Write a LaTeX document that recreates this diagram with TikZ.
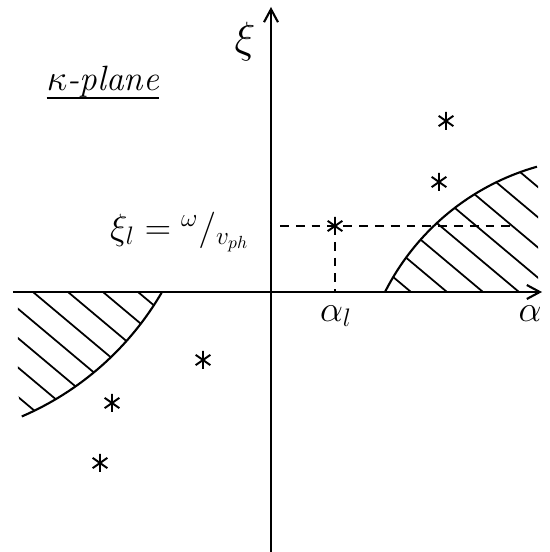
\documentclass[tikz,border=0pt]{standalone}
\usepackage{amsmath,amssymb}
\usetikzlibrary{arrows.meta}

\begin{document}
\begin{tikzpicture}[
    axis/.style={line width=1.2pt,-{Straight Barb[length=2.6mm,width=2.8mm]}},
    rim/.style={line width=1.2pt},
    hatch/.style={line width=1pt},
    guide/.style={line width=1pt,dash pattern=on 5pt off 4pt},
    lbl/.style={inner sep=1pt,font=\fontsize{20}{24}\selectfont},
    ast/.pic={\draw[line width=1.1pt] (90:0.18)--(-90:0.18)
      (35:0.18)--(215:0.18) (145:0.18)--(-35:0.18);}
  ]
  \useasboundingbox (-5.42,-5.2) rectangle (5.56,5.84);
  \coordinate (xl) at (-5.16,0);
  \coordinate (xr) at (5.42,0);
  \coordinate (yb) at (0,-5.2);
  \coordinate (yt) at (0,5.7);
  \coordinate (s1) at (3.5,3.42);
  \coordinate (s2) at (3.36,2.2);
  \coordinate (s3) at (1.28,1.32);
  \coordinate (s4) at (-1.36,-1.36);
  \coordinate (s5) at (-3.18,-2.22);
  \coordinate (s6) at (-3.42,-3.42);
  \coordinate (dl) at (0.18,1.32);
  \coordinate (dr) at (4.84,1.32);
  \coordinate (dx) at (1.28,0);
  \begin{scope}
    \clip (2.28,0) arc[start angle=153.2,end angle=105.8,radius=4.9]
      -- (5.34,2.6) -- (5.34,0) -- cycle;
    \foreach \x in {2.8,3.52,...,10}
      \draw[hatch] (\x,0) ++(140:7) -- ++(-40:14);
  \end{scope}
  \begin{scope}
    \clip (-2.18,0) arc[start angle=-30.1,end angle=-66.7,radius=5.97]
      -- (-5.06,-2.0) -- (-5.06,0) -- cycle;
    \foreach \x in {-2.66,-3.36,...,-8.6}
      \draw[hatch] (\x,0) ++(140:7) -- ++(-40:14);
  \end{scope}
  \draw[rim] (2.28,0) arc[start angle=153.2,end angle=105.8,radius=4.9];
  \draw[rim] (-2.18,0) arc[start angle=-30.1,end angle=-66.7,radius=5.97];
  \draw[axis] (xl) -- (xr);
  \draw[axis] (yb) -- (yt);
  \draw[guide] (dl) -- (dr);
  \draw[guide] (s3) -- (dx);
  \foreach \s in {s1,s2,s3,s4,s5,s6}
    \pic at (\s) {ast};
  \node[lbl,font=\fontsize{28}{30}\selectfont] (xi) at (-0.52,5.0) {$\xi$};
  \node[lbl,anchor=east] (xil) at (-0.4,1.2) {$\xi_l = {}^{\omega}/_{v_{ph}}$};
  \node[lbl] (al) at (1.3,-0.48) {$\alpha_l$};
  \node[lbl] (a) at (5.18,-0.44) {$\alpha$};
  \node[lbl,inner sep=0pt] (plane) at (-3.36,4.2) {\textit{$\kappa$-plane}};
  \draw[rim] (plane.south west) -- (plane.south east);
\end{tikzpicture}
\end{document}
